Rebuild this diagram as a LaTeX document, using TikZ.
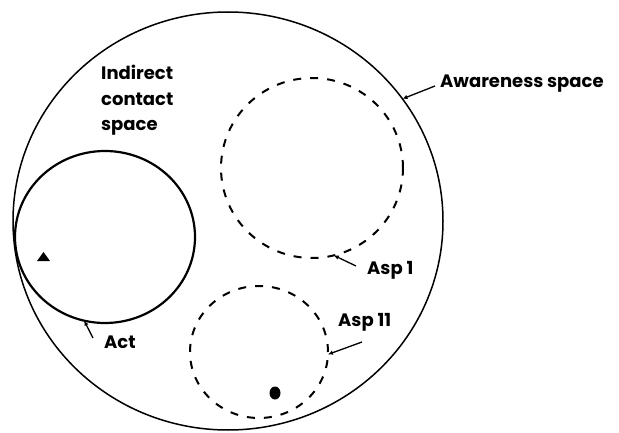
\documentclass[tikz,border=0pt]{standalone}
\usepackage{fontspec}
\setmainfont{Poppins}
\usetikzlibrary{shapes.geometric,arrows.meta}
\begin{document}
\begin{tikzpicture}[x=1pt,y=-1pt,
  region/.style={ellipse,draw,inner sep=0pt,outer sep=0pt},
  lbl/.style={inner sep=0pt,font=\fontsize{18}{25.5}\selectfont\bfseries},
  pointer/.style={line width=1.3pt,-{Latex[length=5pt,width=4.5pt]}}]
\useasboundingbox (0,0) rectangle (619,433);
% regions
\node[region,line width=1.5pt,minimum width=430pt,minimum height=418pt] (aware) at (228,221) {};
\node[region,line width=2.2pt,minimum width=180pt,minimum height=172pt] (act) at (105,237) {};
\node[region,line width=2pt,dash pattern=on 8pt off 9pt,minimum width=182pt,minimum height=180pt] (asp1) at (312,168) {};
\node[region,line width=2pt,dash pattern=on 8pt off 9pt,minimum width=138pt,minimum height=132pt] (asp2) at (259,352) {};
% marks
\fill (37,261) -- (50,261) -- (43.5,252) -- cycle;
\fill (275,393) ellipse (5.5 and 6.5);
% labels
\node[lbl,align=left,anchor=north west] (ind) at (101,65) {Indirect\\contact\\space};
\node[lbl,anchor=west] (lawa) at (440,84) {Awareness space};
\node[lbl,anchor=west] (lasp1) at (367,270) {Asp 1};
\node[lbl,anchor=west] (lasp2) at (338,322) {Asp 11};
\node[lbl,anchor=west] (lact) at (104,342) {Act};
% pointers
\coordinate (pawa) at (435,86);
\coordinate (pasp1) at (356,266);
\coordinate (pasp2) at (362,342);
\coordinate (pact) at (93,338);
\draw[pointer] (pawa) -- (aware.35);
\draw[pointer] (pasp1) -- (asp1.-76);
\draw[pointer] (pasp2) -- (asp2.-2);
\draw[pointer] (pact) -- (act.-104);
\end{tikzpicture}
\end{document}
